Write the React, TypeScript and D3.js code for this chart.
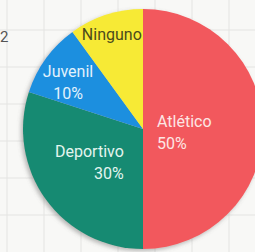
import * as d3 from "d3";

// --- datos ---
const teams = ["Atlético", "Deportivo", "Juvenil", "Ninguno"];
const percents = [50, 30, 10, 10];
const colors = ["#f2595d", "#178a72", "#1b8fdf", "#f7ea35"];

// estilos de las etiquetas (radio, ancla y ajustes)
const LABELS = [
  { r: 42, anchor: "start", dx: -28, dy: -2, fill: "#fde6e4", lines: 2 },
  { r: 67, anchor: "end", dx: 35, dy: -11, fill: "#e4f5ef", lines: 2 },
  { r: 89, anchor: "middle", dx: -3, dy: 0, fill: "#e2f2fc", lines: 2 },
  { r: 101, anchor: "middle", dx: 0, dy: 7, fill: "#4b4a1c", lines: 1 },
];

const W = 255;
const H = 252;
const PIE = { cx: 143, cy: 129, r: 120 };
const FONT = { family: "Roboto, sans-serif", size: 16, lineHeight: 22 };
const GRID = { step: 37, x0: 7, y0: 30, color: "#e4e4e2" };

export default function App() {
  const slices = d3
    .pie<number>()
    .sort(null)
    .value((d) => d)(percents);

  const arc = d3
    .arc<d3.PieArcDatum<number>>()
    .innerRadius(0)
    .outerRadius(PIE.r);

  const gridX = d3.range(GRID.x0, W, GRID.step);
  const gridY = d3.range(GRID.y0, H, GRID.step);

  return (
    <div style={{ position: "absolute", left: 0, top: 0 }}>
      <svg width={W} height={H} style={{ display: "block" }}>
        <defs>
          <filter id="sombra" x="-20%" y="-20%" width="140%" height="140%">
            <feDropShadow
              dx="-2"
              dy="2"
              stdDeviation="2"
              floodColor="#666"
              floodOpacity="0.45"
            />
          </filter>
        </defs>
        <rect width={W} height={H} fill="#f8f8f6" />
        {gridX.map((x) => (
          <line key={"gx" + x} x1={x} x2={x} y1={0} y2={H} stroke={GRID.color} />
        ))}
        {gridY.map((y) => (
          <line key={"gy" + y} x1={0} x2={W} y1={y} y2={y} stroke={GRID.color} />
        ))}
        <text x={0} y={42} fontSize={15} fontFamily={FONT.family} fill="#555">
          2
        </text>
        <g transform={`translate(${PIE.cx},${PIE.cy})`}>
          <g filter="url(#sombra)">
            {slices.map((s, i) => (
              <path key={teams[i]} d={arc(s) ?? ""} fill={colors[i]} />
            ))}
          </g>
          {slices.map((s, i) => {
            const cfg = LABELS[i];
            const labelArc = d3
              .arc<d3.PieArcDatum<number>>()
              .innerRadius(cfg.r)
              .outerRadius(cfg.r);
            const [lx, ly] = labelArc.centroid(s);
            const x = lx + cfg.dx;
            const y = ly + cfg.dy;
            return (
              <text
                key={"l" + i}
                x={x}
                y={y}
                textAnchor={cfg.anchor}
                fontFamily={FONT.family}
                fontSize={FONT.size}
                fill={cfg.fill}
              >
                <tspan x={x}>{teams[i]}</tspan>
                {cfg.lines > 1 && (
                  <tspan x={x} dy={FONT.lineHeight}>
                    {percents[i]}%
                  </tspan>
                )}
              </text>
            );
          })}
        </g>
      </svg>
    </div>
  );
}
